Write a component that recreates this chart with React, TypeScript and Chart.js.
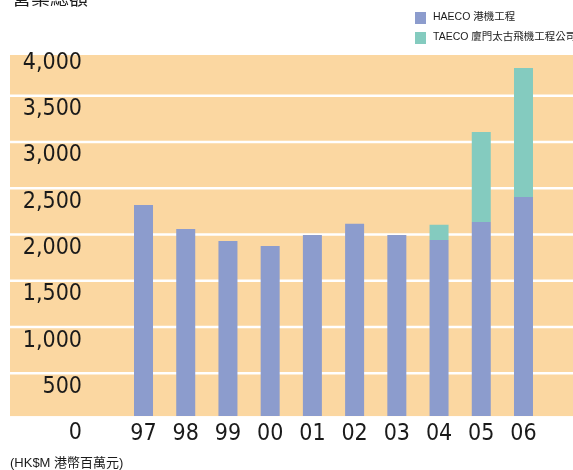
import React, { useEffect, useRef } from "react";
import { Chart, registerables } from "chart.js";

Chart.register(...registerables);

// ---- data ----
const years = ["97", "98", "99", "00", "01", "02", "03", "04", "05", "06"];
const haecoValues = [2320, 2060, 1930, 1875, 1995, 2115, 1995, 1940, 2135, 2405];
const taecoValues = [null, null, null, null, null, null, null, 165, 973, 1394];
const seriesLabels = ["HAECO 港機工程", "TAECO 廈門太古飛機工程公司"];
const yMin = 0;
const yMax = 4000;
const yStep = 500;
const titleText = "營業總額";
const unitText = "(HK$M 港幣百萬元)";

// ---- styles ----
const BG = "#FBD7A1";
const BLUE = "#8C9CCD";
const TEAL = "#84CBBF";
const TEXT = "#1a1a1a";
const NARROW = "'DejaVu Sans Condensed', 'Noto Sans CJK TC', sans-serif";
const SANS = "'Liberation Sans', 'Noto Sans CJK TC', sans-serif";

const decorPlugin = {
  id: "decor",
  beforeDraw(chart: any) {
    const { ctx, chartArea, scales } = chart;
    const y = scales.y;
    const top = 55;
    const left = 10;
    const right = chart.width;
    const bottom = chartArea.bottom - 3.5;
    ctx.save();
    ctx.fillStyle = BG;
    ctx.fillRect(left, top, right - left, bottom - top);
    ctx.strokeStyle = "#ffffff";
    ctx.lineWidth = 2.5;
    y.ticks.forEach((t: any) => {
      const py = y.getPixelForValue(t.value);
      if (py > top + 2 && py < bottom - 2) {
        ctx.beginPath();
        ctx.moveTo(left, py);
        ctx.lineTo(right, py);
        ctx.stroke();
      }
    });
    ctx.restore();
  },
  afterDraw(chart: any) {
    const { ctx } = chart;
    ctx.save();
    ctx.fillStyle = TEXT;
    ctx.font = "19px 'Noto Sans CJK TC', sans-serif";
    ctx.textBaseline = "alphabetic";
    ctx.textAlign = "left";
    ctx.fillText(titleText, 12, 5);
    ctx.font = "13px " + SANS;
    ctx.textBaseline = "middle";
    ctx.fillText(unitText, 10, 463);
    chart.data.datasets.forEach((ds: any, i: number) => {
      const by = 12 + i * 20;
      ctx.fillStyle = ds.backgroundColor;
      ctx.fillRect(415, by, 11, 12);
      ctx.fillStyle = TEXT;
      ctx.font = "10.5px " + SANS;
      ctx.textBaseline = "middle";
      ctx.fillText(ds.label, 433, by + 5.5);
    });
    ctx.restore();
  },
};

export default function App() {
  const ref = useRef<HTMLCanvasElement>(null);
  useEffect(() => {
    if (!ref.current) return;
    const clip = { left: 0, top: 0, right: 0, bottom: -3.5 } as any;
    const chart = new Chart(ref.current, {
      type: "bar",
      data: {
        labels: years,
        datasets: [
          { label: seriesLabels[0], data: haecoValues, backgroundColor: BLUE, borderWidth: 0, clip },
          { label: seriesLabels[1], data: taecoValues as any, backgroundColor: TEAL, borderWidth: 0, clip },
        ],
      },
      options: {
        responsive: false,
        animation: false,
        devicePixelRatio: 1,
        layout: { padding: { left: 0, right: 28.4, top: 49.44, bottom: 0 } },
        datasets: { bar: { categoryPercentage: 1, barPercentage: 0.45 } },
        plugins: {
          legend: { display: false },
          title: { display: false },
          tooltip: { enabled: false },
        },
        scales: {
          x: {
            stacked: true,
            offset: true,
            border: { display: false },
            grid: { display: false, drawTicks: false },
            ticks: {
              color: TEXT,
              font: { family: NARROW, size: 23 },
              padding: 1,
              maxRotation: 0,
              autoSkip: false,
            },
            afterFit(scale: any) {
              scale.height = 50.43;
            },
          },
          y: {
            stacked: true,
            min: yMin,
            max: yMax,
            border: { display: false },
            grid: { display: false, drawTicks: true, tickLength: 40.4 },
            ticks: {
              stepSize: yStep,
              color: TEXT,
              font: { family: NARROW, size: 23 },
              padding: 0,
              labelOffset: 13.5,
              callback: (v: any) => Number(v).toLocaleString("en-US"),
            },
            afterFit(scale: any) {
              scale.width = 122.4;
            },
          },
        },
      },
      plugins: [decorPlugin],
    });
    return () => chart.destroy();
  }, []);
  return (
    <div style={{ position: "absolute", left: 0, top: 0, width: 573, height: 470 }}>
      <canvas ref={ref} width={573} height={470} />
    </div>
  );
}
